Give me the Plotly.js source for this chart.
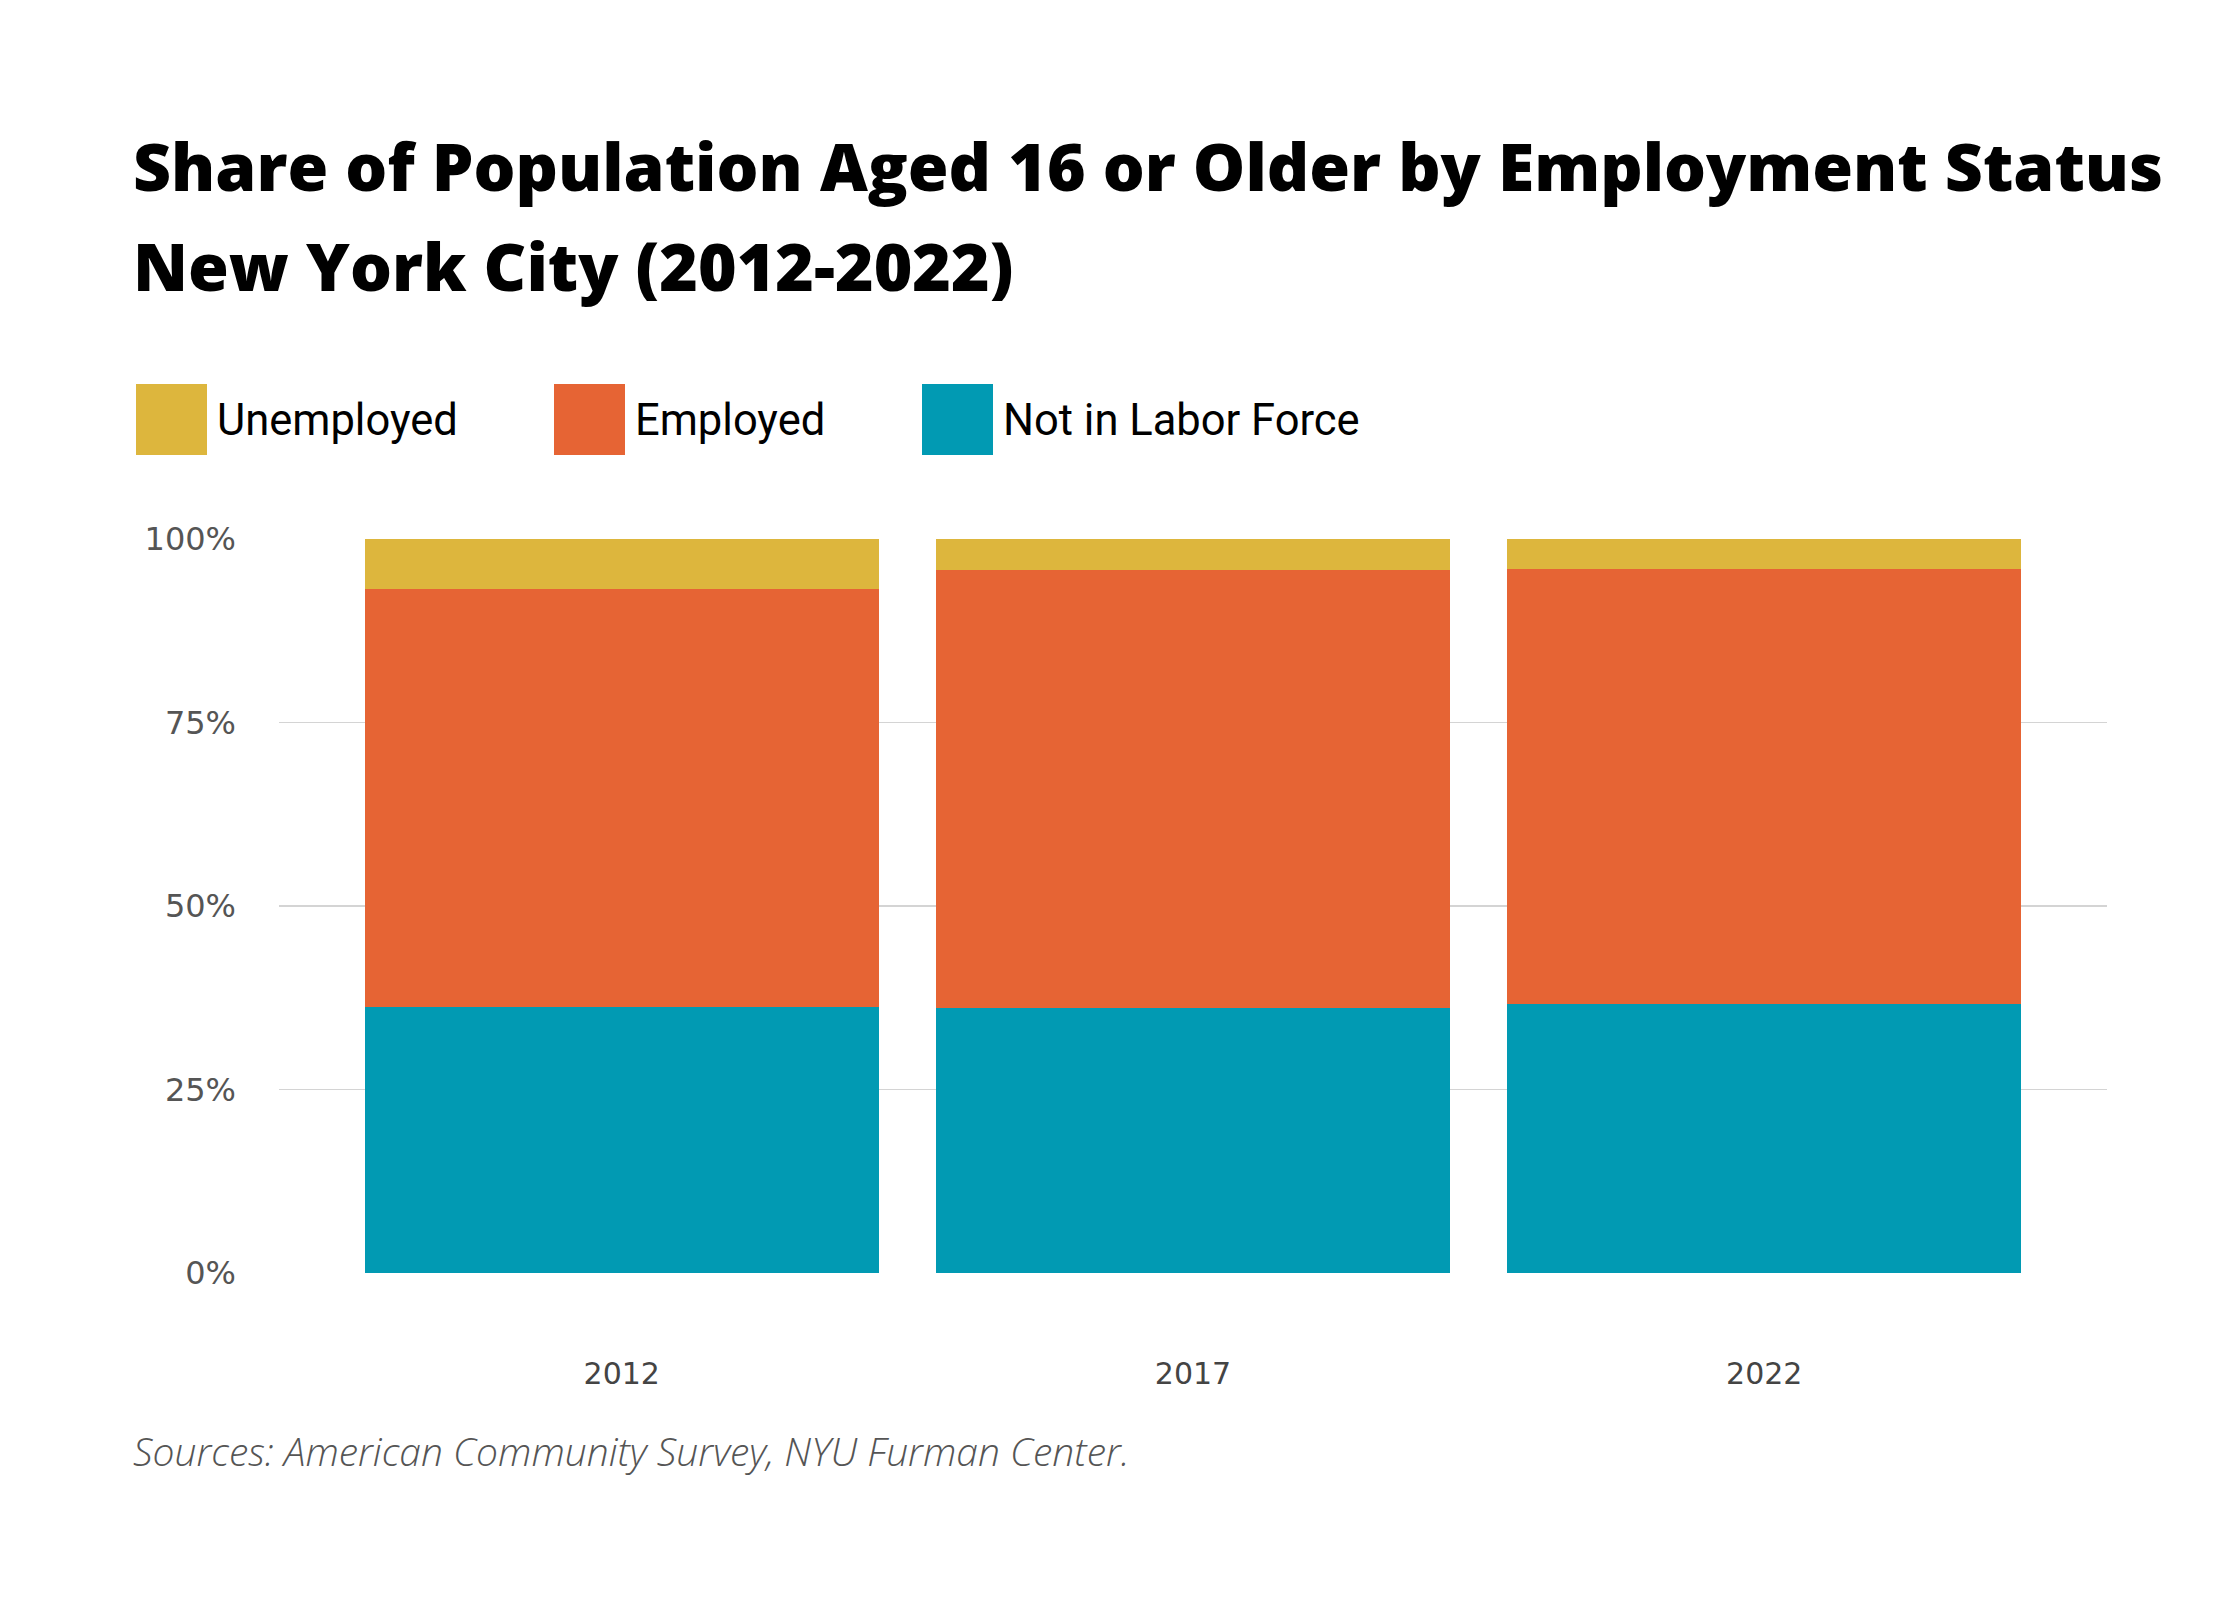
<!DOCTYPE html>
<html>
<head>
<meta charset="utf-8">
<script src="https://cdn.plot.ly/plotly-3.0.1.min.js"></script>
<style>
  html, body { margin: 0; padding: 0; background: #fff; }
  #chart { width: 2240px; height: 1600px; }
</style>
</head>
<body>
<div id="chart"></div>
<script>
    // --- DATA ---
    const years = ['2012', '2017', '2022'];
    const notInLaborForce = [36.3, 36.1, 36.7];
    const employed = [56.9, 59.7, 59.2];
    const unemployed = [6.8, 4.2, 4.1];
    const yTicks = [0, 25, 50, 75, 100];

    const seriesNames = ['Unemployed', 'Employed', 'Not in Labor Force'];
    const seriesColors = ['#DDB63D', '#E66434', '#019AB3'];

    // --- LAYOUT HELPERS (page pixels -> paper coords) ---
    const W = 2240, H = 1600;
    const plotL = 279, plotR = 2107, plotT = 539, plotB = 1273;
    const px = x => (x - plotL) / (plotR - plotL);
    const py = y => (plotB - y) / (plotB - plotT);

    const titleFont = '"Open Sans", Roboto, sans-serif';
    const textFont = 'Roboto, "Open Sans", sans-serif';
    const tickFont = '"DejaVu Sans", "Open Sans", sans-serif';

    // --- TRACES (stacked from bottom) ---
    const values = [unemployed, employed, notInLaborForce];
    const traces = [2, 1, 0].map(i => ({
        type: 'bar',
        name: seriesNames[i],
        x: years,
        y: values[i],
        marker: { color: seriesColors[i], line: { width: 0 } },
        hoverinfo: 'skip'
    }));

    // --- CUSTOM LEGEND (big square swatches) ---
    const legendLeft = [136, 554, 922];
    const swatch = 71;
    const legendTop = 384;
    const shapes = [];
    const annotations = [];
    seriesNames.forEach((name, i) => {
        shapes.push({
            type: 'rect', xref: 'paper', yref: 'paper',
            x0: px(legendLeft[i]), x1: px(legendLeft[i] + swatch),
            y0: py(legendTop), y1: py(legendTop + swatch),
            fillcolor: seriesColors[i], line: { width: 0 }
        });
        annotations.push({
            xref: 'paper', yref: 'paper',
            x: px(legendLeft[i] + swatch + 8), y: py(420),
            xanchor: 'left', yanchor: 'middle', showarrow: false,
            text: name,
            font: { family: textFont, size: 43.5, color: '#000' }
        });
    });

    // --- TITLE (two lines) ---
    annotations.push({
        xref: 'paper', yref: 'paper', x: px(131), y: py(165),
        xanchor: 'left', yanchor: 'middle', showarrow: false,
        text: 'Share of Population Aged 16 or Older by Employment Status',
        font: { family: titleFont, size: 66, weight: 800, color: '#000' }
    });
    annotations.push({
        xref: 'paper', yref: 'paper', x: px(131), y: py(265),
        xanchor: 'left', yanchor: 'middle', showarrow: false,
        text: 'New York City (2012-2022)',
        font: { family: titleFont, size: 66, weight: 800, color: '#000' }
    });

    // --- SOURCE NOTE ---
    annotations.push({
        xref: 'paper', yref: 'paper', x: px(131), y: py(1450),
        xanchor: 'left', yanchor: 'middle', showarrow: false,
        text: '<i>Sources: American Community Survey, NYU Furman Center.</i>',
        font: { family: '"Open Sans", sans-serif', size: 39, weight: 300, color: '#555' }
    });

    const layout = {
        width: W,
        height: H,
        margin: { l: plotL, r: W - plotR, t: plotT, b: H - plotB, pad: 0 },
        paper_bgcolor: '#fff',
        plot_bgcolor: '#fff',
        barmode: 'stack',
        bargap: 0.1,
        showlegend: false,
        xaxis: {
            type: 'category',
            range: [-0.6, 2.6],
            showgrid: false,
            showline: false,
            zeroline: false,
            ticks: '',
            ticklabelstandoff: 80,
            tickfont: { family: tickFont, size: 30, color: '#444' }
        },
        yaxis: {
            range: [0, 100],
            tickvals: yTicks,
            ticktext: yTicks.map(v => v + '%'),
            showgrid: true,
            gridcolor: '#d4d4d4',
            gridwidth: 1.5,
            zeroline: false,
            showline: false,
            ticks: '',
            ticklabelstandoff: 42,
            tickfont: { family: tickFont, size: 32, color: '#555' }
        },
        shapes: shapes,
        annotations: annotations
    };

    Plotly.newPlot('chart', traces, layout, { displayModeBar: false, staticPlot: true });
</script>
</body>
</html>
